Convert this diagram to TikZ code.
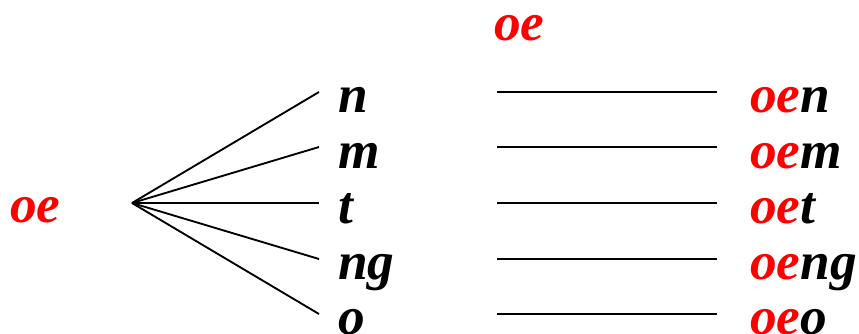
\documentclass[tikz,border=0pt]{standalone}
\usepackage{fontspec}
\setmainfont{Liberation Serif}
\usepackage{xcolor}
\usetikzlibrary{positioning}

\begin{document}
\begin{tikzpicture}[
    x=0.75pt, y=-0.75pt,
    syl/.style={font=\fontsize{40}{48}\selectfont\bfseries\itshape, inner sep=0pt, anchor=base west},
    rime/.style={syl, text=red},
    link/.style={line width=1.4pt},
]
\useasboundingbox (0,0) rectangle (859,333);

% Rimes
\node[rime] (oe) at (10,222) {oe};
\node[rime] (oetop) at (494,40) {oe};
\coordinate (fan) at (132,203);

% Codas
\node[syl] (n) at (338,112) {n};
\node[syl] (m) at (338,168) {m};
\node[syl] (t) at (338,223) {t};
\node[syl] (ng) at (338,279) {ng};
\node[syl] (o) at (338,334) {o};

% Syllables
\node[syl] (oen) at (750,112) {\textcolor{red}{oe}n};
\node[syl] (oem) at (750,168) {\textcolor{red}{oe}m};
\node[syl] (oet) at (750,223) {\textcolor{red}{oe}t};
\node[syl] (oeng) at (750,279) {\textcolor{red}{oe}ng};
\node[syl] (oeo) at (750,334) {\textcolor{red}{oe}o};

% Fan and blanks
\foreach \c/\y in {n/92, m/147, t/203, ng/259, o/314} {
    \coordinate (\c-tip) at (319,\y);
    \coordinate (\c-left) at (497,\y);
    \coordinate (\c-right) at (717,\y);
    \draw[link] (fan) -- (\c-tip);
    \draw[link] (\c-left) -- (\c-right);
}

\end{tikzpicture}
\end{document}
